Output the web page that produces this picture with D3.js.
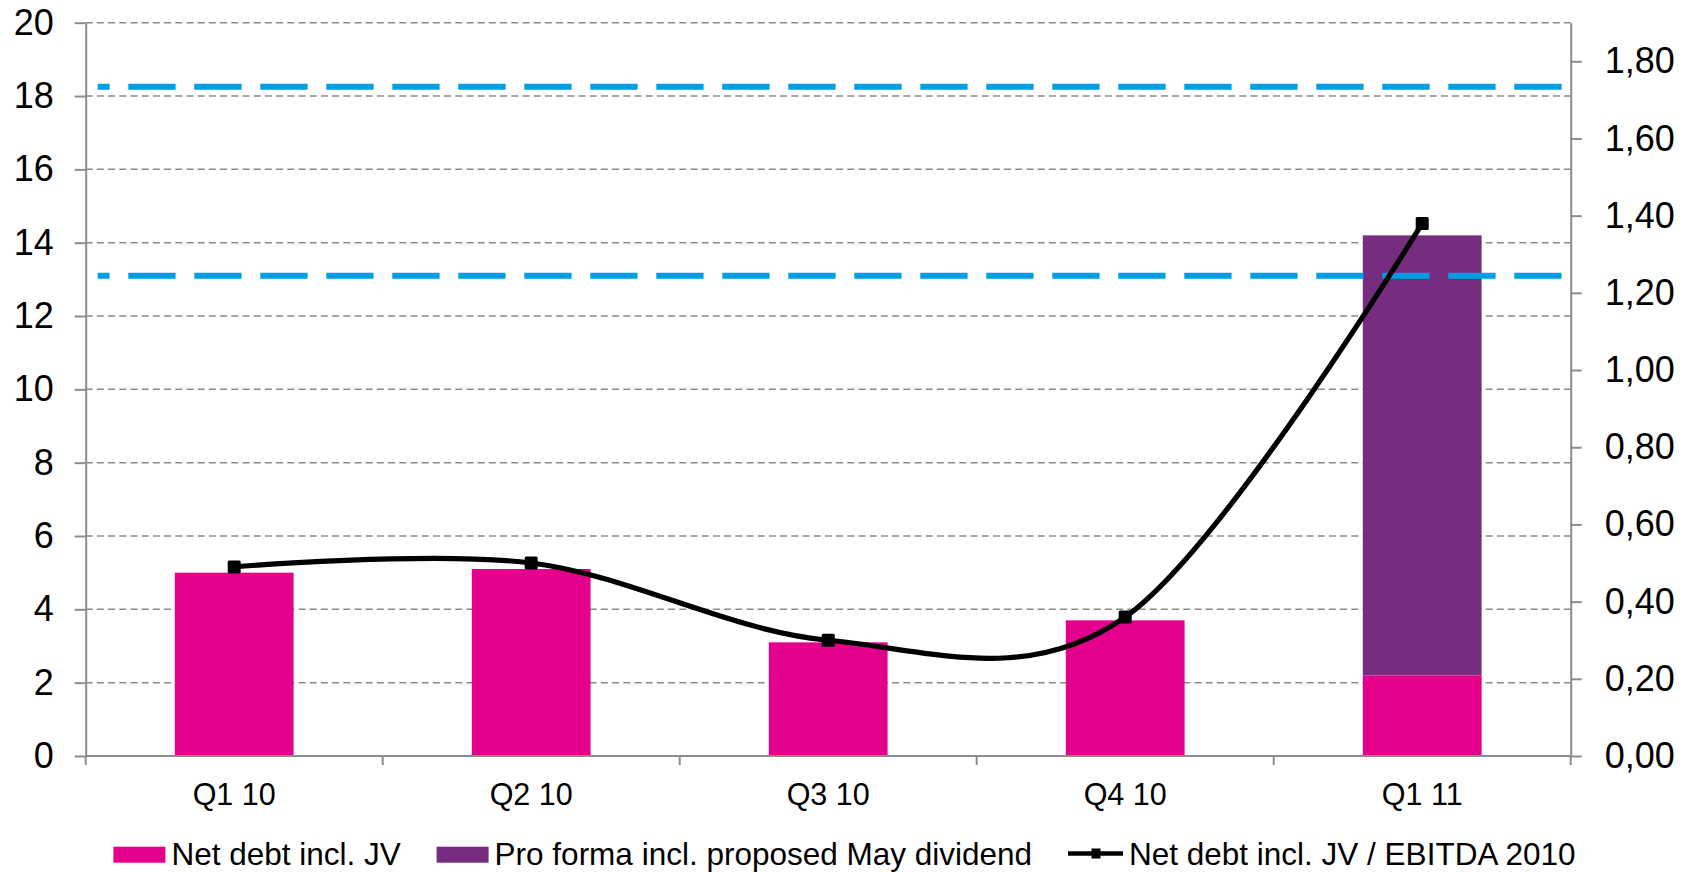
<!DOCTYPE html>
<html>
<head>
<meta charset="utf-8">
<script src="https://cdn.jsdelivr.net/npm/d3@7/dist/d3.min.js"></script>
<style>
  html, body { margin: 0; padding: 0; background: #ffffff; }
  svg { display: block; font-family: "Liberation Sans", Arial, sans-serif; }
</style>
</head>
<body>
<svg id="chart" width="1692" height="872"></svg>
<script>
// Quarterly data
const categories = ["Q1 10", "Q2 10", "Q3 10", "Q4 10", "Q1 11"];
const netDebt = [5.0, 5.1, 3.1, 3.7, 2.2];            // Net debt incl. JV
const proForma = [0, 0, 0, 0, 12.0];                  // Pro forma incl. proposed May dividend
const ratio = [0.49, 0.50, 0.30, 0.36, 1.38];         // Net debt incl. JV / EBITDA 2010
const referenceLevels = [18.25, 13.1];                // horizontal dashed levels (left axis)

const leftTicks = [0, 2, 4, 6, 8, 10, 12, 14, 16, 18, 20];
const rightTicks = [0, 0.2, 0.4, 0.6, 0.8, 1.0, 1.2, 1.4, 1.6, 1.8];

const legendLabels = ["Net debt incl. JV", "Pro forma incl. proposed May dividend", "Net debt incl. JV / EBITDA 2010"];

const colors = { netDebt: "#E4008C", proForma: "#762D80", ratio: "#000000", level: "#009EE2", axis: "#8C8C8C", grid: "#8C8C8C" };

// Plot frame
const plot = { left: 85.7, right: 1570.7, top: 22.7, bottom: 756 };

const svg = d3.select("#chart");

const x = d3.scaleBand().domain(categories).range([plot.left, plot.right]).padding(0);
const barW = x.bandwidth() * 0.4;
const yL = d3.scaleLinear().domain([0, 20]).range([plot.bottom, plot.top]);
const yR = d3.scaleLinear().domain([0, 1.9]).range([plot.bottom, plot.top]);

// Gridlines
svg.append("g")
  .selectAll("line")
  .data(leftTicks.filter(d => d > 0))
  .join("line")
  .attr("x1", plot.left).attr("x2", plot.right)
  .attr("y1", d => yL(d)).attr("y2", d => yL(d))
  .attr("stroke", colors.grid)
  .attr("stroke-width", 1.5)
  .attr("stroke-dasharray", "7,4.2");

// Stacked bars
const stacked = categories.map((c, i) => ({ cat: c, a: netDebt[i], b: proForma[i] }));
const bars = svg.append("g");
bars.selectAll("rect.nd")
  .data(stacked)
  .join("rect")
  .attr("class", "nd")
  .attr("x", d => x(d.cat) + x.bandwidth() / 2 - barW / 2)
  .attr("width", barW)
  .attr("y", d => yL(d.a))
  .attr("height", d => yL(0) - yL(d.a))
  .attr("fill", colors.netDebt);
bars.selectAll("rect.pf")
  .data(stacked.filter(d => d.b > 0))
  .join("rect")
  .attr("class", "pf")
  .attr("x", d => x(d.cat) + x.bandwidth() / 2 - barW / 2)
  .attr("width", barW)
  .attr("y", d => yL(d.a + d.b))
  .attr("height", d => yL(d.a) - yL(d.a + d.b))
  .attr("fill", colors.proForma);

// Dashed reference levels
svg.append("g")
  .selectAll("line")
  .data(referenceLevels)
  .join("line")
  .attr("x1", plot.left + 12).attr("x2", plot.right - 8.4)
  .attr("y1", d => yL(d)).attr("y2", d => yL(d))
  .attr("stroke", colors.level)
  .attr("stroke-width", 6)
  .attr("stroke-dasharray", "47.3,18.7")
  .attr("stroke-dashoffset", 35.4);

// Smoothed ratio line with square markers
const pts = categories.map((c, i) => [x(c) + x.bandwidth() / 2, yR(ratio[i])]);
svg.append("path")
  .datum(pts)
  .attr("d", d3.line().curve(d3.curveCardinal.tension(0)))
  .attr("fill", "none")
  .attr("stroke", colors.ratio)
  .attr("stroke-width", 5.2)
  .attr("stroke-linejoin", "round");
svg.append("g")
  .selectAll("rect")
  .data(pts)
  .join("rect")
  .attr("x", d => d[0] - 6.5).attr("y", d => d[1] - 6.5)
  .attr("width", 13).attr("height", 13)
  .attr("rx", 1.5)
  .attr("fill", colors.ratio);

// Left axis
const axL = svg.append("g")
  .attr("transform", `translate(${plot.left},0)`)
  .call(d3.axisLeft(yL).tickValues(leftTicks).tickFormat(d3.format("d")).tickSize(11).tickSizeOuter(0).tickPadding(21));
// Right axis
const axR = svg.append("g")
  .attr("transform", `translate(${plot.right},0)`)
  .call(d3.axisRight(yR).tickValues(rightTicks).tickFormat(d => d.toFixed(2).replace(".", ",")).tickSize(11).tickSizeOuter(0).tickPadding(23));
[axL, axR].forEach(g => {
  g.select(".domain").attr("stroke", colors.axis).attr("stroke-width", 2);
  g.selectAll(".tick line").attr("stroke", colors.axis).attr("stroke-width", 2);
  g.selectAll(".tick text").attr("font-size", 36).attr("fill", "#000").attr("font-family", "Liberation Sans, Arial, sans-serif");
});

// Bottom axis: baseline, boundary ticks and category labels
const axB = svg.append("g");
axB.append("line")
  .attr("x1", plot.left).attr("x2", plot.right)
  .attr("y1", plot.bottom).attr("y2", plot.bottom)
  .attr("stroke", colors.axis).attr("stroke-width", 2);
const bounds = categories.map(c => x(c)).concat([x(categories[categories.length - 1]) + x.bandwidth()]);
axB.selectAll("line.tk")
  .data(bounds)
  .join("line")
  .attr("class", "tk")
  .attr("x1", d => d).attr("x2", d => d)
  .attr("y1", plot.bottom).attr("y2", plot.bottom + 9)
  .attr("stroke", colors.axis).attr("stroke-width", 2);
axB.selectAll("text")
  .data(categories)
  .join("text")
  .attr("x", d => x(d) + x.bandwidth() / 2)
  .attr("y", 804.5)
  .attr("text-anchor", "middle")
  .attr("font-size", 30.5)
  .attr("fill", "#000")
  .text(d => d);

// Legend
const legend = svg.append("g").attr("font-size", 31.5).attr("fill", "#000");
const legendX = [113.4, 436.6, 1068];
legend.append("rect").attr("x", legendX[0]).attr("y", 846.7).attr("width", 52).attr("height", 16).attr("fill", colors.netDebt);
legend.append("text").attr("x", legendX[0] + 58).attr("y", 865).text(legendLabels[0]);
legend.append("rect").attr("x", legendX[1]).attr("y", 846.7).attr("width", 52).attr("height", 16).attr("fill", colors.proForma);
legend.append("text").attr("x", legendX[1] + 58).attr("y", 865).text(legendLabels[1]);
legend.append("line").attr("x1", legendX[2]).attr("x2", legendX[2] + 55).attr("y1", 853.5).attr("y2", 853.5)
  .attr("stroke", colors.ratio).attr("stroke-width", 4.5);
legend.append("rect").attr("x", legendX[2] + 23.5).attr("y", 848.5).attr("width", 9).attr("height", 10).attr("fill", colors.ratio);
legend.append("text").attr("x", legendX[2] + 61).attr("y", 865).text(legendLabels[2]);
</script>
</body>
</html>
